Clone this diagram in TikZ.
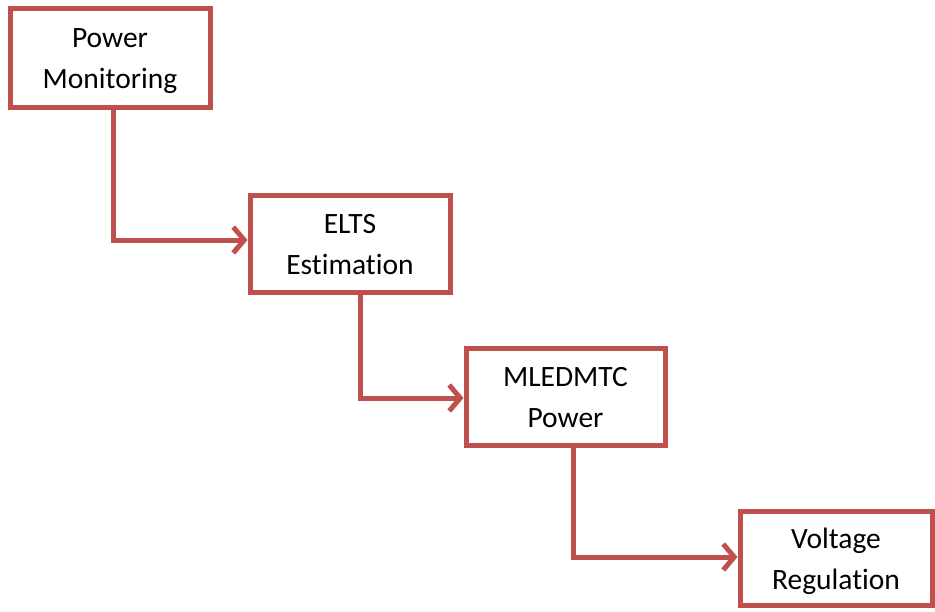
\documentclass[tikz,border=0pt]{standalone}
\usepackage{fontspec}
\setmainfont{Carlito}[Ligatures=CommonOff]
\usetikzlibrary{arrows.meta}
\definecolor{boxred}{RGB}{192,80,77}
\begin{document}
\begin{tikzpicture}[x=1pt,y=-1pt,
  blockbox/.style={draw=boxred,line width=5pt,fill=white,align=center,inner sep=0pt,
    text height=62pt,text depth=0pt,
    font=\fontsize{29.5}{41}\selectfont},
  conn/.style={draw=boxred,line width=5pt,-{Straight Barb[length=11pt,width=26pt,line width=5pt]}}]
\useasboundingbox (0,0) rectangle (935,611);
\node[blockbox,minimum width=200pt,minimum height=99pt] (p1) at (110,57.5) {Power\\Monitoring};
\node[blockbox,minimum width=200pt,minimum height=97pt] (p2) at (350,243.5) {ELTS\\Estimation};
\node[blockbox,minimum width=199pt,minimum height=97pt] (p3) at (565.5,396.5) {MLEDMTC\\Power};
\node[blockbox,minimum width=192pt,minimum height=94pt] (p4) at (836,558) {Voltage\\Regulation};
\draw[conn] ([xshift=3pt]p1.south) |- ([yshift=3.5pt]p2.west);
\draw[conn] ([xshift=10pt]p2.south) |- ([yshift=-1.5pt]p3.west);
\draw[conn] ([xshift=7.5pt]p3.south) |- ([yshift=1pt]p4.west);
\end{tikzpicture}
\end{document}
